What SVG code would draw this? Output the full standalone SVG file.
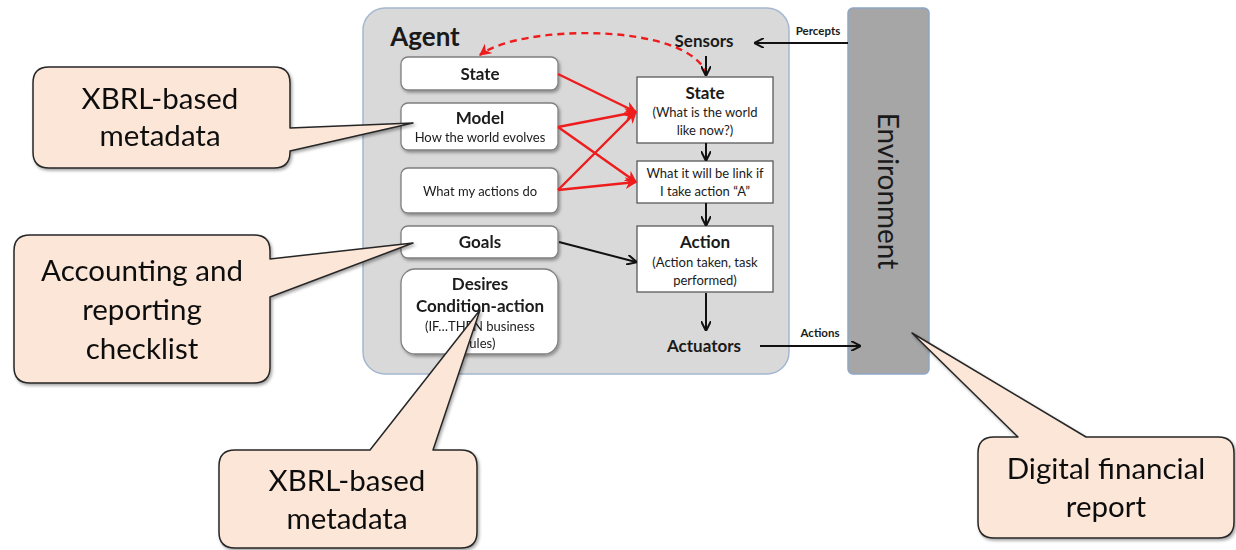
<svg xmlns="http://www.w3.org/2000/svg" width="1236" height="550" viewBox="0 0 1236 550">
<defs>
<style>
.t{font-family:"Lato","Liberation Sans",sans-serif;fill:#1a1a1a;text-anchor:middle}
.b{font-weight:bold}
.lbox{fill:#fff;stroke:#7f7f7f;stroke-width:1.3}
.rbox{fill:#fff;stroke:#595959;stroke-width:1.3}
.call{fill:#fce6d7;stroke:#262626;stroke-width:1.5;stroke-linejoin:round}
.ct{font-family:"Lato","Liberation Sans",sans-serif;font-size:29.5px;fill:#111;text-anchor:middle}
.red{stroke:#ee1c1c;stroke-width:2.4;fill:none;marker-end:url(#ar)}
.blk{stroke:#111;stroke-width:2;fill:none;marker-end:url(#ab)}
</style>
<marker id="ar" viewBox="0 0 10 10" refX="9" refY="5" markerWidth="5" markerHeight="5" orient="auto-start-reverse"><path d="M0,0 L10,5 L0,10 L3,5 Z" fill="#ee1c1c"/></marker>
<marker id="ab" viewBox="0 0 10 10" refX="9" refY="5" markerWidth="5" markerHeight="5" orient="auto-start-reverse"><path d="M0,0 L10,5 L0,10" fill="none" stroke="#111" stroke-width="2"/></marker>
<filter id="sh" x="-10%" y="-10%" width="125%" height="130%"><feDropShadow dx="1.5" dy="2" stdDeviation="1.5" flood-color="#000" flood-opacity="0.35"/></filter>
</defs>
<rect width="1236" height="550" fill="#fff"/>

<g id="agent">
<rect x="363" y="8" width="426" height="366" rx="22" fill="#d9d9d9" stroke="#a4b7d0" stroke-width="1.5"/>
<text class="t b" x="425" y="46" font-size="26">Agent</text>
</g>

<g id="environment">
<rect x="848" y="8" width="81" height="366" rx="5" fill="#a6a6a6" stroke="#8ea6c6" stroke-width="1.5"/>
<text class="t" x="0" y="0" font-size="28" fill="#111" transform="translate(878,191) rotate(90)">Environment</text>
</g>

<g id="sensors"><text class="t b" x="704" y="47" font-size="17">Sensors</text></g>
<g id="actuators"><text class="t b" x="704" y="352" font-size="17">Actuators</text></g>

<g id="state-left" filter="url(#sh)">
<rect class="lbox" x="401" y="57" width="157" height="33" rx="7"/>
<text class="t b" x="480" y="80" font-size="17">State</text>
</g>
<g id="model" filter="url(#sh)">
<rect class="lbox" x="401" y="103" width="157" height="47" rx="7"/>
<text class="t b" x="480" y="124" font-size="17">Model</text>
<text class="t" x="480" y="142" font-size="13">How the world evolves</text>
</g>
<g id="actions-do" filter="url(#sh)">
<rect class="lbox" x="401" y="168" width="157" height="45" rx="7"/>
<text class="t" x="480" y="196" font-size="13">What my actions do</text>
</g>
<g id="goals" filter="url(#sh)">
<rect class="lbox" x="401" y="226" width="157" height="32" rx="7"/>
<text class="t b" x="480" y="248" font-size="17">Goals</text>
</g>
<g id="desires" filter="url(#sh)">
<rect class="lbox" x="401" y="269" width="157" height="85" rx="14"/>
<text class="t b" x="480" y="290" font-size="17">Desires</text>
<text class="t b" x="480" y="312" font-size="17">Condition-action</text>
<text class="t" x="480" y="331" font-size="13">(IF…THEN business</text>
<text class="t" x="480" y="348" font-size="13">rules)</text>
</g>

<g id="state-right">
<rect class="rbox" x="637" y="77" width="136" height="66"/>
<text class="t b" x="705" y="99" font-size="17">State</text>
<text class="t" x="705" y="117" font-size="13">(What is the world</text>
<text class="t" x="705" y="135" font-size="13">like now?)</text>
</g>
<g id="what-if">
<rect class="rbox" x="637" y="161" width="136" height="42"/>
<text class="t" x="705" y="178" font-size="13">What it will be link if</text>
<text class="t" x="705" y="196" font-size="13">I take action “A”</text>
</g>
<g id="action">
<rect class="rbox" x="637" y="226" width="136" height="66"/>
<text class="t b" x="705" y="248" font-size="17">Action</text>
<text class="t" x="705" y="267" font-size="13">(Action taken, task</text>
<text class="t" x="705" y="285" font-size="13">performed)</text>
</g>

<g id="connectors">
<path class="red" d="M558,74 L636,112"/>
<path class="red" d="M558,127 L636,112"/>
<path class="red" d="M558,127 L636,182"/>
<path class="red" d="M558,190 L636,112"/>
<path class="red" d="M558,190 L636,182"/>
<path class="red" d="M707,75 C690,22 520,24 480,55" stroke-dasharray="7,5"/>
<path class="blk" d="M706,56 V75"/>
<path class="blk" d="M706,143 V160"/>
<path class="blk" d="M706,203 V225"/>
<path class="blk" d="M706,293 V330"/>
<path class="blk" d="M559,242 L636,262"/>
<path class="blk" d="M848,43 H755"/>
<path class="blk" d="M760,346 H860"/>
<text class="t b" x="818" y="35" font-size="11.5">Percepts</text>
<text class="t b" x="820" y="337" font-size="11.5">Actions</text>
</g>

<g id="callout-xbrl-top" filter="url(#sh)">
<path class="call" d="M49,67 H274 Q290,67 290,83 V128 L413,123 L290,151 V152 Q290,168 274,168 H49 Q33,168 33,152 V83 Q33,67 49,67 Z"/>
<text class="ct" x="160" y="109">XBRL-based</text>
<text class="ct" x="160" y="146">metadata</text>
</g>
<g id="callout-checklist" filter="url(#sh)">
<path class="call" d="M30,235 H254 Q270,235 270,251 V259 L413,243 L270,297 V367 Q270,383 254,383 H30 Q14,383 14,367 V251 Q14,235 30,235 Z"/>
<text class="ct" x="142" y="281">Accounting and</text>
<text class="ct" x="142" y="320">reporting</text>
<text class="ct" x="142" y="359">checklist</text>
</g>
<g id="callout-xbrl-bottom" filter="url(#sh)">
<path class="call" d="M235,450 H370 L480,310 L433,450 H461 Q477,450 477,466 V532 Q477,548 461,548 H235 Q219,548 219,532 V466 Q219,450 235,450 Z"/>
<text class="ct" x="347" y="491">XBRL-based</text>
<text class="ct" x="347" y="529">metadata</text>
</g>
<g id="callout-report" filter="url(#sh)">
<path class="call" d="M994,437 H1018 L912,333 L1086,437 H1218 Q1234,437 1234,453 V522 Q1234,538 1218,538 H994 Q978,538 978,522 V453 Q978,437 994,437 Z"/>
<text class="ct" x="1106" y="479">Digital financial</text>
<text class="ct" x="1106" y="517">report</text>
</g>
</svg>
